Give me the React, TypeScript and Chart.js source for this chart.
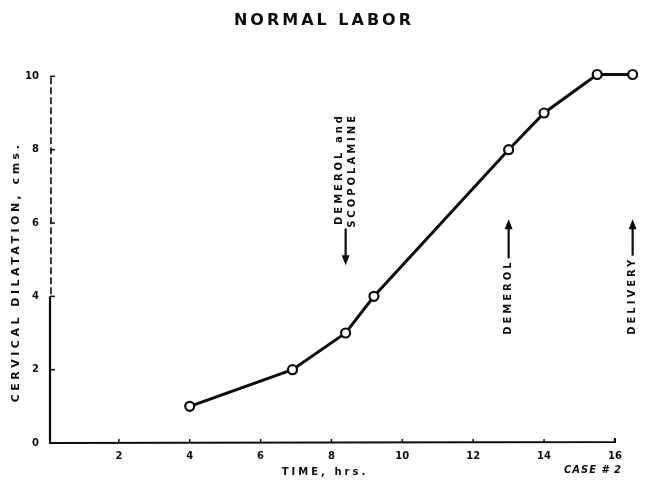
import React, { useEffect, useRef } from 'react';
import { Chart, registerables } from 'chart.js';

Chart.register(...registerables);

// ---- data ----
const timeHrs = [4, 6.9, 8.4, 9.2, 13, 14, 15.5, 16.5];
const dilatationCm = [1, 2, 3, 4, 8, 9, 10.05, 10.05];
const xTickValues = [2, 4, 6, 8, 10, 12, 14, 16];
const yTickValues = [0, 2, 4, 6, 8, 10];
const chartTitle = 'NORMAL LABOR';
const xTitle = 'TIME, hrs.';
const yTitle = 'CERVICAL DILATATION, cms.';
const caseLabel = 'CASE # 2';
const eventTimes = [8.4, 13, 16.5];
const eventLabels = [['DEMEROL and', 'SCOPOLAMINE'], ['DEMEROL'], ['DELIVERY']];
const eventArrowUp = [false, true, true];

const INK = '#0c0c0c';
const FONT = '"DejaVu Sans", sans-serif';

function drawArrow(ctx: CanvasRenderingContext2D, x: number, yFrom: number, yTo: number) {
  const dir = yTo > yFrom ? 1 : -1;
  ctx.save();
  ctx.strokeStyle = INK;
  ctx.fillStyle = INK;
  ctx.lineWidth = 2.2;
  ctx.beginPath();
  ctx.moveTo(x, yFrom);
  ctx.lineTo(x, yTo - dir * 6);
  ctx.stroke();
  ctx.beginPath();
  ctx.moveTo(x, yTo);
  ctx.lineTo(x - 4, yTo - dir * 10);
  ctx.lineTo(x + 4, yTo - dir * 10);
  ctx.closePath();
  ctx.fill();
  ctx.restore();
}

const decorPlugin = {
  id: 'decor',
  afterDraw(chart: any) {
    const ctx: CanvasRenderingContext2D = chart.ctx;
    const xs = chart.scales.x;
    const ys = chart.scales.y;
    const x0 = xs.getPixelForValue(0) + 2;
    const y0 = ys.getPixelForValue(0);
    ctx.save();
    ctx.strokeStyle = INK;
    ctx.fillStyle = INK;
    ctx.lineCap = 'butt';

    // x axis
    ctx.lineWidth = 2.2;
    ctx.beginPath();
    ctx.moveTo(x0 - 1, y0);
    ctx.lineTo(xs.getPixelForValue(16), y0 - 1);
    ctx.lineTo(xs.getPixelForValue(16), y0 - 5);
    ctx.stroke();
    // y axis: solid to 4, broken above
    ctx.beginPath();
    ctx.moveTo(x0, y0 + 1);
    ctx.lineTo(x0, ys.getPixelForValue(4));
    ctx.stroke();
    ctx.lineWidth = 1.6;
    ctx.setLineDash([7, 3]);
    ctx.beginPath();
    ctx.moveTo(x0 + 1, ys.getPixelForValue(4) - 2);
    ctx.lineTo(x0 + 1, ys.getPixelForValue(10));
    ctx.stroke();
    ctx.setLineDash([]);

    // tick marks
    ctx.lineWidth = 1.5;
    xTickValues.forEach((v) => {
      const px = xs.getPixelForValue(v);
      ctx.beginPath();
      ctx.moveTo(px, y0);
      ctx.lineTo(px, y0 - 4);
      ctx.stroke();
    });
    yTickValues.forEach((v) => {
      if (v === 0) return;
      const py = ys.getPixelForValue(v);
      ctx.beginPath();
      ctx.moveTo(x0, py);
      ctx.lineTo(x0 + 5, py);
      ctx.stroke();
    });

    // title
    (ctx as any).letterSpacing = '3px';
    ctx.font = `bold 16px ${FONT}`;
    ctx.textAlign = 'center';
    ctx.textBaseline = 'middle';
    ctx.fillText(chartTitle, 324, 21);

    // x title
    (ctx as any).letterSpacing = '3px';
    ctx.font = `bold 10px ${FONT}`;
    ctx.fillText(xTitle, 325, 472);

    // case label
    (ctx as any).letterSpacing = '1px';
    ctx.font = `italic bold 10px ${FONT}`;
    ctx.fillText(caseLabel, 593, 470);

    // y title
    ctx.save();
    ctx.translate(16, 272);
    ctx.rotate(-Math.PI / 2);
    (ctx as any).letterSpacing = '3.5px';
    ctx.font = `bold 11px ${FONT}`;
    ctx.fillText(yTitle, 0, 0);
    ctx.restore();

    // event annotations
    eventTimes.forEach((t, i) => {
      const px = xs.getPixelForValue(t);
      const lines = eventLabels[i];
      ctx.save();
      (ctx as any).letterSpacing = '3px';
      ctx.font = `bold 10px ${FONT}`;
      if (!eventArrowUp[i]) {
        // text above (top aligned), arrow down below it
        const textTop = ys.getPixelForValue(9.0);
        ctx.translate(px, textTop);
        ctx.rotate(-Math.PI / 2);
        ctx.textAlign = 'right';
        lines.forEach((ln, k) => {
          ctx.fillText(ln, 0, (k - (lines.length - 1) / 2) * 13);
        });
        ctx.restore();
        drawArrow(ctx, px, ys.getPixelForValue(5.85), ys.getPixelForValue(4.85));
      } else {
        const textBottom = ys.getPixelForValue(2.95);
        ctx.translate(px, textBottom);
        ctx.rotate(-Math.PI / 2);
        ctx.textAlign = 'left';
        lines.forEach((ln) => ctx.fillText(ln, 0, 0));
        const w = ctx.measureText(lines[0]).width;
        ctx.restore();
        drawArrow(ctx, px, textBottom - w - 1, ys.getPixelForValue(6.1));
      }
    });
    ctx.restore();
  },
};

export default function App() {
  const ref = useRef<HTMLCanvasElement | null>(null);
  useEffect(() => {
    if (!ref.current) return;
    const chart = new Chart(ref.current, {
      type: 'line',
      data: {
        datasets: [
          {
            data: timeHrs.map((t, i) => ({ x: t, y: dilatationCm[i] })),
            borderColor: INK,
            borderWidth: 3,
            pointRadius: 4.5,
            pointBorderWidth: 2.2,
            pointBackgroundColor: '#ffffff',
            pointBorderColor: INK,
            tension: 0,
            fill: false,
          },
        ],
      },
      options: {
        animation: false,
        responsive: true,
        maintainAspectRatio: false,
        layout: { padding: { top: 58, right: 2, left: 0, bottom: 0 } },
        plugins: { legend: { display: false }, tooltip: { enabled: false }, title: { display: false } },
        scales: {
          x: {
            type: 'linear',
            min: 0,
            max: 16.66,
            grid: { display: false, drawTicks: false },
            border: { display: false },
            afterFit: (s: any) => { s.height = 42; },
            afterBuildTicks: (s: any) => { s.ticks = xTickValues.map((v) => ({ value: v })); },
            ticks: {
              padding: 7,
              color: INK,
              font: { family: FONT, weight: 'bold', size: 10 },
              maxRotation: 0,
              autoSkip: false,
            },
          },
          y: {
            type: 'linear',
            min: 0,
            max: 10.5,
            grid: { display: false, drawTicks: false },
            border: { display: false },
            afterFit: (s: any) => { s.width = 48; },
            afterBuildTicks: (s: any) => { s.ticks = yTickValues.map((v) => ({ value: v })); },
            ticks: {
              padding: 9,
              color: INK,
              font: { family: FONT, weight: 'bold', size: 10 },
              autoSkip: false,
            },
          },
        },
      },
      plugins: [decorPlugin],
    });
    return () => chart.destroy();
  }, []);
  return (
    <div style={{ position: 'absolute', left: 0, top: 0, width: 645, height: 485, background: '#fff' }}>
      <canvas ref={ref} />
    </div>
  );
}
